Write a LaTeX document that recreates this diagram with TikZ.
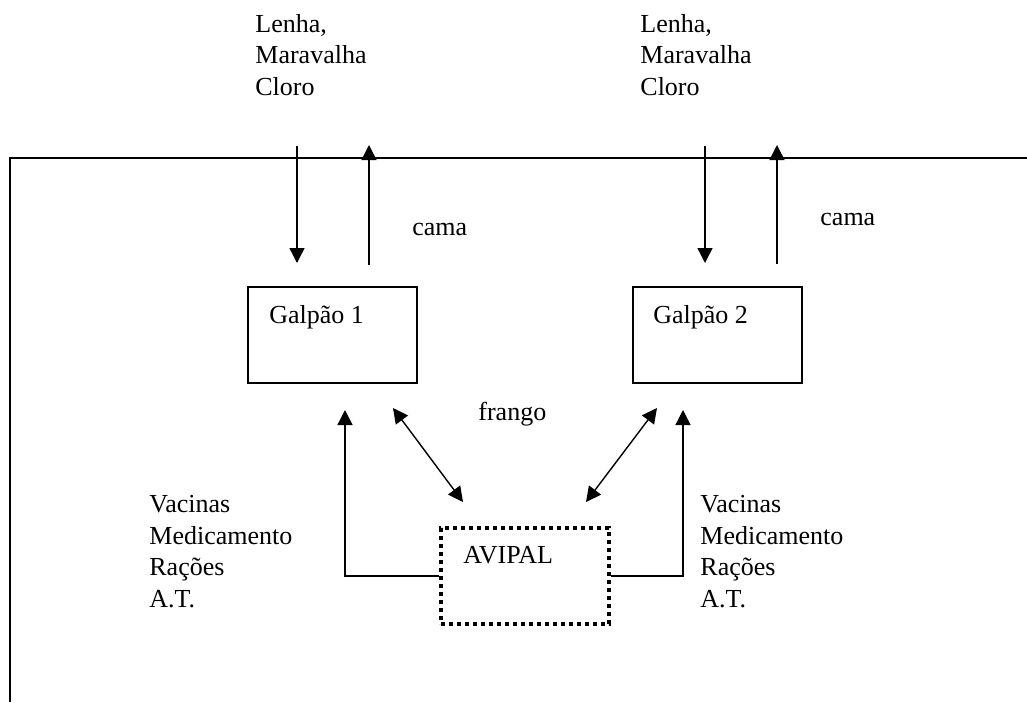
\documentclass[tikz,border=0pt]{standalone}
\usepackage{fontspec}
\setmainfont{Liberation Serif}
\usetikzlibrary{arrows.meta}

\begin{document}
\begin{tikzpicture}[x=0.5pt,y=-0.5pt,
  font=\fontsize{13}{15.75}\selectfont,
  >={Triangle[length=7.5pt,width=7.5pt]},
  flow/.style={->,line width=0.7pt},
  galpao/.style={draw,line width=1pt,minimum width=84.5pt,minimum height=48pt,inner sep=0pt},
  empresa/.style={draw,line width=2pt,dash pattern=on 2pt off 2pt,minimum width=84pt,minimum height=48pt,inner sep=0pt},
  txt/.style={inner sep=0pt,anchor=base west,align=left}]
\useasboundingbox (0,0) rectangle (1027,702);

\draw[line width=1pt] (1027,158) -- (10,158) -- (10,702);

\node[galpao] (g1) at (332.5,335) {};
\node[galpao] (g2) at (717,335) {};
\node[empresa] (avipal) at (525,576) {};

\node[txt] (g1lab) at (269,323) {Galpão 1};
\node[txt] (g2lab) at (653,323) {Galpão 2};
\node[txt] (avlab) at (463,563) {AVIPAL};

% texto de varias linhas: base = ultima linha
\node[txt] (ins1) at (255,95) {Lenha,\\Maravalha\\Cloro};
\node[txt] (ins2) at (640,95) {Lenha,\\Maravalha\\Cloro};
\node[txt] (cama1) at (412,235) {cama};
\node[txt] (cama2) at (820,225) {cama};
\node[txt] (frango) at (478,420) {frango};
\node[txt] (sup1) at (149,607) {Vacinas\\Medicamento\\Rações\\A.T.};
\node[txt] (sup2) at (700,607) {Vacinas\\Medicamento\\Rações\\A.T.};

% entradas e saidas dos galpoes
\coordinate (in1a) at (297,146);  \coordinate (in1b) at (297,263);
\coordinate (out1a) at (369,265); \coordinate (out1b) at (369,145);
\coordinate (in2a) at (705,146);  \coordinate (in2b) at (705,263);
\coordinate (out2a) at (777,264); \coordinate (out2b) at (777,145);
\draw[flow] (in1a) -- (in1b);
\draw[flow] (out1a) -- (out1b);
\draw[flow] (in2a) -- (in2b);
\draw[flow] (out2a) -- (out2b);

% frango
\coordinate (fr1a) at (393,408); \coordinate (fr1b) at (463,502);
\coordinate (fr2a) at (657,408); \coordinate (fr2b) at (586,502);
\draw[flow,<->] (fr1a) -- (fr1b);
\draw[flow,<->] (fr2b) -- (fr2a);

% insumos
\coordinate (v1) at (345,410);
\coordinate (v2) at (683,410);
\draw[flow] (avipal.west) -| (v1);
\draw[flow] (avipal.east) -| (v2);

\end{tikzpicture}
\end{document}
